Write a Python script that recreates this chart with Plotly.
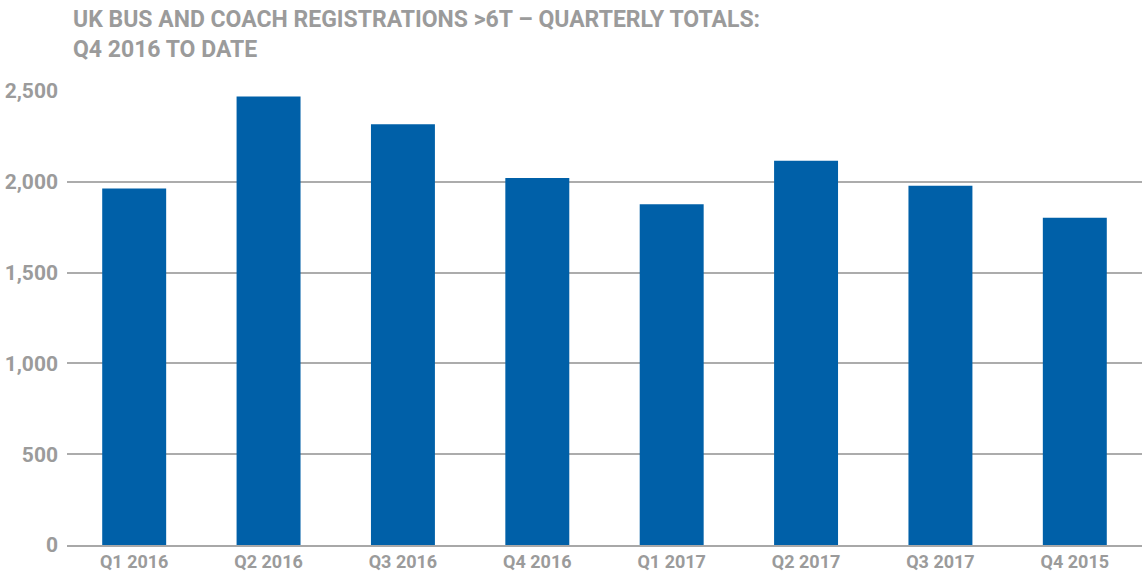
import plotly.graph_objs as go

# Quarterly totals
quarters = ['Q1 2016', 'Q2 2016', 'Q3 2016', 'Q4 2016',
            'Q1 2017', 'Q2 2017', 'Q3 2017', 'Q4 2015']
registrations = [1963, 2470, 2317, 2021, 1876, 2116, 1978, 1802]
y_ticks = [0, 500, 1000, 1500, 2000, 2500]
y_tick_labels = ['0', '500', '1,000', '1,500', '2,000', '2,500']

title = 'UK BUS AND COACH REGISTRATIONS >6T \u2013 QUARTERLY TOTALS:<br>Q4 2016 TO DATE'

grey = '#9b9b9b'
blue = '#0060a8'

fig = go.Figure()
fig.add_trace(go.Bar(x=quarters, y=registrations, marker_color=blue,
                     marker_line_width=0, hoverinfo='x+y'))

fig.update_layout(
    width=1144, height=578,
    margin=dict(l=67, r=2, t=91, b=33),
    paper_bgcolor='white', plot_bgcolor='white',
    bargap=0.524,
    showlegend=False,
    title=dict(text=title, x=73 / 1144, xanchor='left', xref='container',
               y=1 - 27 / 578, yanchor='top', yref='container',
               font=dict(family='Roboto', size=23, color=grey, weight='bold')),
    font=dict(family='Roboto', color=grey),
)

fig.update_xaxes(showgrid=False, showline=True, linecolor='#a8a8a8', linewidth=1.5,
                 ticks='', tickfont=dict(size=18, color=grey, weight='bold'))
fig.update_yaxes(range=[0, 2500], tickvals=y_ticks, ticktext=y_tick_labels,
                 showgrid=True, gridcolor='#acacac', gridwidth=1.5, zeroline=False,
                 ticks='', ticklabelstandoff=8,
                 tickfont=dict(size=21, color=grey, weight='bold'))

# drop the browser's default body margin so the figure sits at the page corner
fig.write_html("out.html", config={'displayModeBar': False},
               post_script="document.body.style.margin='0';")
